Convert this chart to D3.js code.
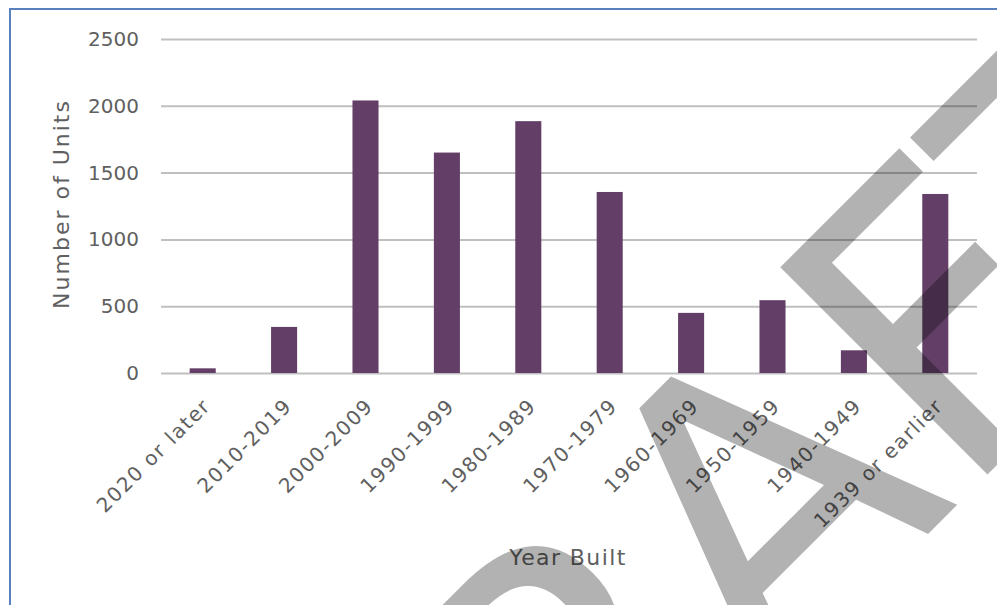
<!DOCTYPE html>
<html>
<head>
<meta charset="utf-8">
<script src="https://cdn.jsdelivr.net/npm/d3@7"></script>
<style>
  html, body { margin: 0; padding: 0; background: #ffffff; }
  svg { display: block; }
  text { font-family: "DejaVu Sans", "Liberation Sans", sans-serif; }
</style>
</head>
<body>
<div id="chart"></div>
<script>
const categories = ["2020 or later", "2010-2019", "2000-2009", "1990-1999", "1980-1989",
                    "1970-1979", "1960-1969", "1950-1959", "1940-1949", "1939 or earlier"];
const units = [35, 345, 2040, 1650, 1885, 1355, 450, 545, 170, 1340];
const yTicks = [0, 500, 1000, 1500, 2000, 2500];
const xTitle = "Year Built";
const yTitle = "Number of Units";
const watermark = "DRAFT";

const W = 997, H = 605;
const svg = d3.select("#chart").append("svg").attr("width", W).attr("height", H);

// frame border
svg.append("rect").attr("x", 10).attr("y", 9).attr("width", W + 20).attr("height", H + 20)
  .attr("fill", "none").attr("stroke", "#5b80be").attr("stroke-width", 2);

const x = d3.scaleBand().domain(categories).range([162, 976]).paddingInner(0.68).paddingOuter(0.34);
const y = d3.scaleLinear().domain([0, 2500]).range([373, 39]);

// gridlines + y tick labels
const yAxis = d3.axisLeft(y).tickValues(yTicks).tickFormat(d3.format("d"))
  .tickSize(-(977 - 161)).tickPadding(22);
const gy = svg.append("g").attr("transform", "translate(161,0)").call(yAxis);
gy.select(".domain").remove();
gy.selectAll(".tick line").attr("stroke", "#bfbfbf").attr("stroke-width", 2);
gy.selectAll(".tick text").attr("fill", "#606060").attr("font-size", 20)
  .attr("font-family", "DejaVu Sans, sans-serif").attr("x", -22);

// bars
svg.append("g").selectAll("rect").data(categories).join("rect")
  .attr("x", d => x(d))
  .attr("width", x.bandwidth())
  .attr("y", (d, i) => y(units[i]))
  .attr("height", (d, i) => y(0) - y(units[i]))
  .attr("fill", "#633f67");

// x axis (labels only)
const xAxis = d3.axisBottom(x).tickSize(0).tickPadding(0);
const gx = svg.append("g").attr("transform", "translate(0,373)").call(xAxis);
gx.select(".domain").remove();
gx.selectAll(".tick text")
  .attr("fill", "#606060").attr("font-size", 20).attr("letter-spacing", "1.6px")
  .attr("font-family", "DejaVu Sans, sans-serif")
  .attr("text-anchor", "end").attr("dy", null).attr("y", null)
  .attr("transform", "translate(9,34) rotate(-45)");

// axis titles
svg.append("text").attr("x", 568).attr("y", 565).attr("text-anchor", "middle")
  .attr("fill", "#606060").attr("font-size", 22).attr("letter-spacing", "1.4px").text(xTitle);
svg.append("text").attr("transform", "translate(69,204) rotate(-90)").attr("text-anchor", "middle")
  .attr("fill", "#606060").attr("font-size", 22).attr("letter-spacing", "2px").text(yTitle);

// watermark
svg.append("text").attr("transform", "translate(826,636) rotate(-45)")
  .attr("text-anchor", "middle").attr("font-size", 402)
  .attr("font-family", "Liberation Sans, Arial, sans-serif")
  .attr("fill", "#000").attr("fill-opacity", 0.3).text(watermark);
</script>
</body>
</html>
